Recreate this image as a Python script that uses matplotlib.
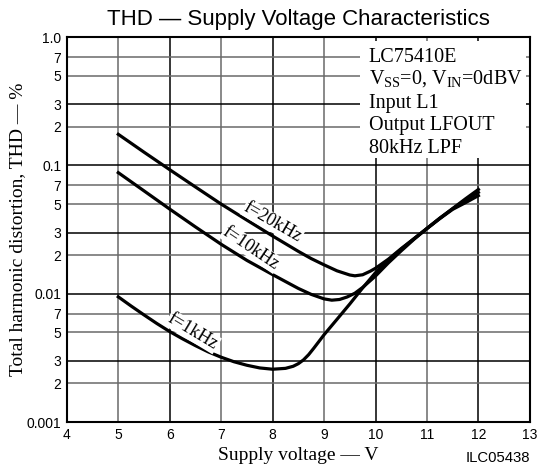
import numpy as np
import matplotlib
matplotlib.use('Agg')
from matplotlib import pyplot as plt
from matplotlib.patches import Rectangle

plt.rcParams['mathtext.fontset'] = 'custom'
plt.rcParams['mathtext.rm'] = 'Liberation Serif'

# Supply voltage [V] and THD [%]
v_20k = [5.0, 5.5, 6.0, 6.5, 7.0, 7.5, 8.0, 8.5, 8.75, 9.0, 9.25, 9.5, 9.6, 9.75, 9.9,
         10.0, 10.25, 10.5, 10.75, 11.0, 11.25, 11.5, 11.75, 12.0]
thd_20k = [0.175, 0.127, 0.0927, 0.068, 0.050, 0.0375, 0.0282, 0.0214, 0.0188, 0.0168,
           0.0151, 0.0140, 0.0138, 0.01406, 0.0150, 0.0158, 0.0186, 0.0225, 0.0269,
           0.0322, 0.0385, 0.0455, 0.0513, 0.0582]

v_10k = [5.0, 5.5, 6.0, 6.5, 7.0, 7.5, 8.0, 8.25, 8.5, 8.75, 9.0, 9.15, 9.3, 9.45, 9.6,
         9.75, 10.0, 10.25, 10.5, 10.75, 11.0, 11.25, 11.5, 11.75, 12.0]
thd_10k = [0.0879, 0.0634, 0.0457, 0.0332, 0.0243, 0.0182, 0.0141, 0.01245, 0.0110,
           0.00989, 0.00912, 0.00891, 0.00902, 0.00944, 0.0101, 0.0112, 0.01374,
           0.0174, 0.0216, 0.0266, 0.0323, 0.0389, 0.0460, 0.0537, 0.0617]

v_1k = [5.0, 5.25, 5.5, 5.75, 6.0, 6.25, 6.5, 6.75, 7.0, 7.25, 7.5, 7.75, 8.0, 8.25,
        8.4, 8.5, 8.6, 8.7, 8.8, 9.0, 9.25, 9.5, 9.75, 10.0, 10.25, 10.5, 10.75, 11.0,
        11.25, 11.5, 11.75, 12.0]
thd_1k = [0.00946, 0.00802, 0.00684, 0.00586, 0.00507, 0.00445, 0.00394, 0.00352,
          0.00320, 0.00295, 0.00277, 0.00264, 0.00258, 0.00262, 0.00272, 0.00285,
          0.00305, 0.00335, 0.00376, 0.00479, 0.00631, 0.00832, 0.0111, 0.0146,
          0.0182, 0.0223, 0.0269, 0.0323, 0.0387, 0.0462, 0.0550, 0.0650]

x_ticks = [4, 5, 6, 7, 8, 9, 10, 11, 12, 13]
y_ticks = [0.001, 0.002, 0.003, 0.005, 0.007, 0.01, 0.02, 0.03, 0.05, 0.07,
           0.1, 0.2, 0.3, 0.5, 0.7, 1.0]
y_ticklabels = ['0.001', '2', '3', '5', '7', '0.01', '2', '3', '5', '7',
                '0.1', '2', '3', '5', '7', '1.0']

conditions = ['LC75410E', r'V$_{\mathrm{SS}}$=0, V$_{\mathrm{IN}}$=0dBV',
              'Input L1', 'Output LFOUT', '80kHz LPF']

serif = 'Liberation Serif'
sans = 'Liberation Sans'

fig = plt.figure(figsize=(5.39, 4.71), dpi=100)
ax = fig.add_axes([0.124, 0.104, 0.859, 0.817])
ax.set_yscale('log')
ax.set_xlim(4, 13)
ax.set_ylim(0.001, 1.0)

## Grid
for x in x_ticks[1:-1]:
    c = 'black' if x % 2 == 0 else '#6a6a6a'
    ax.axvline(x, color=c, lw=1.1, zorder=1)
for y in y_ticks[1:-1]:
    m = round(y / 10 ** np.floor(np.log10(y) + 1e-9))
    c = 'black' if m in (1, 3) else '#6a6a6a'
    ax.axhline(y, color=c, lw=1.1, zorder=1)

## Curves
for v, thd in ((v_20k, thd_20k), (v_10k, thd_10k), (v_1k, thd_1k)):
    ax.plot(v, thd, color='black', lw=2.3, solid_joinstyle='round', zorder=3)

## Curve labels
lbl = dict(fontfamily=serif, fontsize=13, ha='center', va='center', zorder=4,
           bbox=dict(facecolor='white', edgecolor='none', pad=0.5))
ax.text(8.0, 0.036, 'f=20kHz', rotation=-30, **lbl)
ax.text(7.58, 0.0227, 'f=10kHz', rotation=-34, **lbl)
ax.text(6.45, 0.00505, 'f=1kHz', rotation=-31, **lbl)

## Conditions box
ax.add_patch(Rectangle((9.70, 0.114), 3.22, 0.816, facecolor='white', edgecolor='none', zorder=2))
ys = [0.642, 0.436, 0.283, 0.188, 0.124]
for s, y in zip(conditions, ys):
    ax.text(9.87, y, s, fontfamily=serif, fontsize=14.5, ha='left', va='baseline', zorder=4)

## Axes, ticks, labels
ax.set_xticks(x_ticks)
ax.set_xticklabels([str(x) for x in x_ticks], fontfamily=sans, fontsize=10)
ax.set_yticks(y_ticks)
ax.set_yticklabels(y_ticklabels, fontfamily=sans, fontsize=10)
ax.minorticks_off()
ax.tick_params(length=0, pad=4)
for sp in ax.spines.values():
    sp.set_linewidth(1.5)
    sp.set_zorder(5)

ax.set_xlabel('Supply voltage — V', fontfamily=serif, fontsize=14, labelpad=4)
ax.set_ylabel('Total harmonic distortion, THD — %', fontfamily=serif, fontsize=14)
ax.yaxis.set_label_coords(-0.088, 0.5)
ax.set_title('THD — Supply Voltage Characteristics', fontfamily=sans, fontsize=16, pad=9)
fig.text(0.983, 0.027, 'ILC05438', fontfamily=sans, fontsize=10.7, ha='right', va='center')

fig.savefig('out.png', dpi=100)
